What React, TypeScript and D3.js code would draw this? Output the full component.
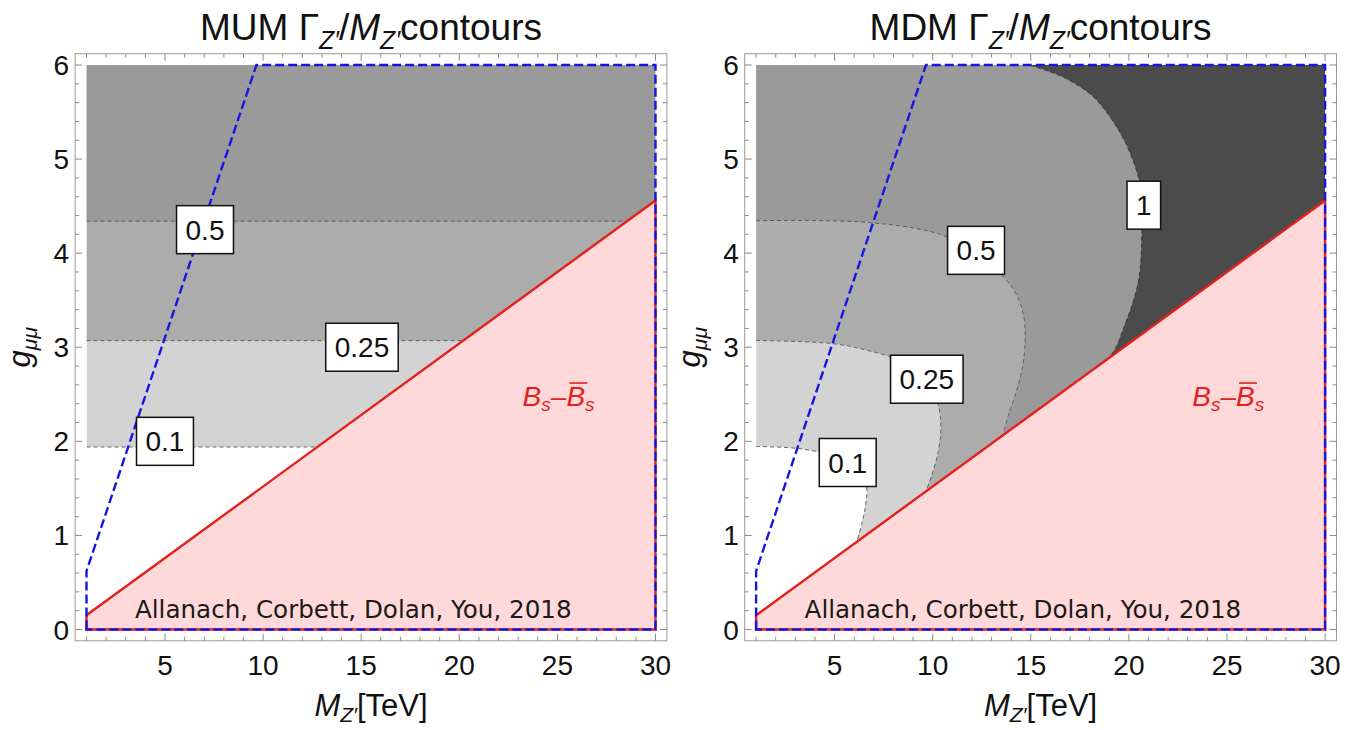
import React from 'react';
import * as d3 from 'd3';

type P = [number, number];

// ---- axes ----
const X_TICKS = [5, 10, 15, 20, 25, 30];
const Y_TICKS = [0, 1, 2, 3, 4, 5, 6];
const X_MINOR = d3.range(1, 31, 1);
const Y_MINOR = d3.range(0, 6.01, 0.2);

// ---- common boundaries ----
const BS_BOUNDARY: P[] = [[1, 0.152], [30, 4.56]];
const SCAN_REGION: P[] = [[1, 0], [1, 0.621], [9.66, 6], [30, 6], [30, 0]];

// ---- MUM: contours are horizontal (g value of each level) ----
const MUM_LEVELS = [0.1, 0.25, 0.5];
const MUM_G = [1.94, 3.07, 4.34];
const MUM_LABELS = [
  { text: '0.5', m: 7.04, g: 4.25 },
  { text: '0.25', m: 15.04, g: 3.0 },
  { text: '0.1', m: 5.0, g: 2.0 },
];

// ---- MDM contours ----
const MDM_C01: P[] = [[1, 1.945], [3.11, 1.924], [4.86, 1.85], [6.03, 1.73], [6.62, 1.526], [6.58, 1.322], [6.38, 1.119], [6.13, 0.93]];
const MDM_C025: P[] = [[1, 3.072], [4.86, 3.039], [6.62, 2.97], [8.37, 2.85], [9.54, 2.665], [10.23, 2.42], [10.42, 2.156], [10.28, 1.89], [9.97, 1.65], [9.66, 1.47]];
const MDM_C05: P[] = [[1, 4.345], [6.81, 4.325], [10.52, 4.19], [12.18, 3.99], [13.64, 3.74], [14.32, 3.54], [14.65, 3.316], [14.71, 3.07], [14.58, 2.79], [14.22, 2.5], [13.83, 2.26], [13.6, 2.07]];
const MDM_C1: P[] = [[13.6, 6.07], [15.39, 5.97], [16.76, 5.86], [18.12, 5.675], [19.1, 5.43], [19.88, 5.15], [20.47, 4.82], [20.7, 4.54], [20.66, 4.21], [20.56, 3.8], [20.27, 3.52], [19.78, 3.23], [19.3, 2.98], [19.0, 2.89]];
const MDM_TAILS: P[] = [[6.0, 0.6], [9.4, 1.0], [13.3, 1.6], [18.7, 2.4]];
const MDM_LABELS = [
  { text: '1', m: 20.76, g: 4.51 },
  { text: '0.5', m: 12.21, g: 4.03 },
  { text: '0.25', m: 9.7, g: 2.66 },
  { text: '0.1', m: 5.67, g: 1.775 },
];

const BAND_FILLS = ['#d3d3d3', '#acacac', '#9a9a9a', '#4b4b4b'];
const PINK = '#ffd9d9';
const RED = '#e3211c';
const BLUE = '#1616e0';
const FONT = "'Liberation Sans', Arial, sans-serif";

const ATTRIBUTION = 'Allanach, Corbett, Dolan, You, 2018';

function labelWidth(t: string, fs: number) {
  let w = 0;
  for (const c of t) w += c === '.' ? 0.278 : 0.556;
  return w * fs + 18;
}

function Panel({ off, name, kind, id }: { off: number; name: string; kind: 'MUM' | 'MDM'; id: string }) {
  const x = d3.scaleLinear().domain([1, 30]).range([86.5 + off, 655.5 + off]);
  const y = d3.scaleLinear().domain([0, 6]).range([629.5, 65]);
  const fx0 = x(0.42), fx1 = x(30.58), fy0 = y(-0.12), fy1 = y(6.12);
  const smooth = d3.line<P>().x(d => x(d[0])).y(d => y(d[1])).curve(d3.curveCatmullRom.alpha(0.5));
  const straight = d3.line<P>().x(d => x(d[0])).y(d => y(d[1]));
  const corner = (m: number, g: number) => `L${x(m)},${y(g)}`;

  const bsAt = (g: number) => {
    const [[m1, g1], [m2, g2]] = BS_BOUNDARY;
    return m1 + ((g - g1) * (m2 - m1)) / (g2 - g1);
  };

  const pinkPoly: P[] = [[1, 0], BS_BOUNDARY[0], BS_BOUNDARY[1], [30, 0]];

  const fills: React.ReactNode[] = [];
  const lines: React.ReactNode[] = [];
  const labels = kind === 'MUM' ? MUM_LABELS : MDM_LABELS;

  if (kind === 'MUM') {
    MUM_G.forEach((g, i) => {
      fills.push(<rect key={'b' + MUM_LEVELS[i]} x={x(1)} y={y(6)} width={x(30) - x(1)} height={y(g) - y(6)} fill={BAND_FILLS[i]} />);
      lines.push(
        <path key={'l' + i} d={straight([[1, g], [bsAt(g), g]]) || ''} fill="none" stroke="#555" strokeWidth={0.9} strokeDasharray="4,3" />
      );
    });
  } else {
    const cs = [MDM_C01, MDM_C025, MDM_C05];
    cs.forEach((c, i) => {
      const d = (smooth([...c, MDM_TAILS[i]]) || '') + corner(30, 0) + corner(30, 6) + corner(1, 6) + 'Z';
      fills.push(<path key={'b' + i} d={d} fill={BAND_FILLS[i]} />);
      lines.push(<path key={'l' + i} d={smooth(c) || ''} fill="none" stroke="#555" strokeWidth={0.9} strokeDasharray="4,3" />);
    });
    const d1 = (smooth([...MDM_C1, MDM_TAILS[3]]) || '') + corner(30, 0) + corner(30, 6.3) + corner(13.6, 6.3) + 'Z';
    fills.push(<path key="b3" d={d1} fill={BAND_FILLS[3]} />);
    lines.push(<path key="l3" d={smooth(MDM_C1) || ''} fill="none" stroke="#333" strokeWidth={0.9} strokeDasharray="4,3" />);
  }

  const cx = (fx0 + fx1) / 2;
  const cy = (fy0 + fy1) / 2;
  const bsX = x(25.05);
  const bsY = y(2.375);

  return (
    <g>
      <defs>
        <clipPath id={id}>
          <rect x={x(1)} y={y(6)} width={x(30) - x(1)} height={y(0) - y(6)} />
        </clipPath>
      </defs>
      <g clipPath={`url(#${id})`}>
        {fills}
        {lines}
      </g>
      <path d={(straight(pinkPoly) || '') + 'Z'} fill={PINK} stroke={RED} strokeWidth={2.4} />
      <path d={(straight(SCAN_REGION) || '') + 'Z'} fill="none" stroke={BLUE} strokeWidth={2.4} strokeDasharray="9,4" />

      {/* frame */}
      <rect x={fx0} y={fy1} width={fx1 - fx0} height={fy0 - fy1} fill="none" stroke="#9a9a9a" strokeWidth={1} />
      {X_MINOR.map(m => {
        const major = X_TICKS.includes(m);
        const L = major ? 7 : 4;
        return (
          <g key={'xt' + m} stroke="#8a8a8a" strokeWidth={1}>
            <line x1={x(m)} x2={x(m)} y1={fy0} y2={fy0 - L} />
            <line x1={x(m)} x2={x(m)} y1={fy1} y2={fy1 + L} />
          </g>
        );
      })}
      {Y_MINOR.map(g => {
        const major = Math.abs(g - Math.round(g)) < 1e-6;
        const L = major ? 7 : 4;
        return (
          <g key={'yt' + g.toFixed(1)} stroke="#8a8a8a" strokeWidth={1}>
            <line x1={fx0} x2={fx0 + L} y1={y(g)} y2={y(g)} />
            <line x1={fx1} x2={fx1 - L} y1={y(g)} y2={y(g)} />
          </g>
        );
      })}
      {X_TICKS.map(m => (
        <text key={'xl' + m} x={x(m)} y={675} textAnchor="middle" fontSize={28} fontFamily={FONT} fill="#111">{m}</text>
      ))}
      {Y_TICKS.map(g => (
        <text key={'yl' + g} x={fx0 - 6} y={y(g)} dy="0.36em" textAnchor="end" fontSize={28} fontFamily={FONT} fill="#111">{g}</text>
      ))}

      {/* contour labels */}
      {labels.map(l => {
        const w = labelWidth(l.text, 28);
        const h = 48;
        return (
          <g key={'lab' + l.text}>
            <rect x={x(l.m) - w / 2} y={y(l.g) - h / 2} width={w} height={h} fill="#fff" stroke="#111" strokeWidth={1.5} />
            <text x={x(l.m)} y={y(l.g)} dy="0.36em" textAnchor="middle" fontSize={28} fontFamily={FONT} fill="#111">{l.text}</text>
          </g>
        );
      })}

      {/* Bs label */}
      <text x={bsX + 8} y={bsY} textAnchor="end" fontSize={28} fontFamily={FONT} fontStyle="italic" fill={RED}>
        B<tspan fontSize={19} dy={5}>s</tspan><tspan dy={-5}>–</tspan>
      </text>
      <text x={bsX + 8} y={bsY} textAnchor="start" fontSize={28} fontFamily={FONT} fontStyle="italic" fill={RED}>
        B<tspan fontSize={19} dy={5}>s</tspan>
      </text>
      <line x1={bsX + 11} x2={bsX + 29} y1={bsY - 23} y2={bsY - 23} stroke={RED} strokeWidth={1.6} />

      {/* attribution */}
      <text x={x(3.47)} y={y(0.12)} fontSize={24.6} fontFamily="'DejaVu Sans', sans-serif" fill="#1a1a1a">{ATTRIBUTION}</text>

      {/* title */}
      <text x={cx} y={40} textAnchor="middle" fontSize={37} fontFamily={FONT} fill="#111">
        {name} Γ<tspan fontSize={25} fontStyle="italic" dy={9}>Z′</tspan><tspan dy={-9}>/</tspan><tspan fontStyle="italic">M</tspan><tspan fontSize={25} fontStyle="italic" dy={9}>Z′</tspan><tspan dy={-9}>contours</tspan>
      </text>

      {/* x label */}
      <text x={cx} y={716} textAnchor="middle" fontSize={31} fontFamily={FONT} fill="#111">
        <tspan fontStyle="italic">M</tspan><tspan fontSize={21} fontStyle="italic" dy={6}>Z′</tspan><tspan dy={-6}>[TeV]</tspan>
      </text>

      {/* y label */}
      <text transform={`translate(${30 + off},${cy}) rotate(-90)`} textAnchor="middle" fontSize={31} fontFamily={FONT} fill="#111">
        <tspan fontStyle="italic">g</tspan><tspan fontSize={21} fontStyle="italic" dy={7}>μμ</tspan>
      </text>
    </g>
  );
}

export default function App() {
  return (
    <svg width={1347} height={730} style={{ position: 'absolute', left: 0, top: 0, background: '#fff' }}>
      <rect width={1347} height={730} fill="#fff" />
      <Panel off={0} name="MUM" kind="MUM" id="clipL" />
      <Panel off={669.6} name="MDM" kind="MDM" id="clipR" />
    </svg>
  );
}
